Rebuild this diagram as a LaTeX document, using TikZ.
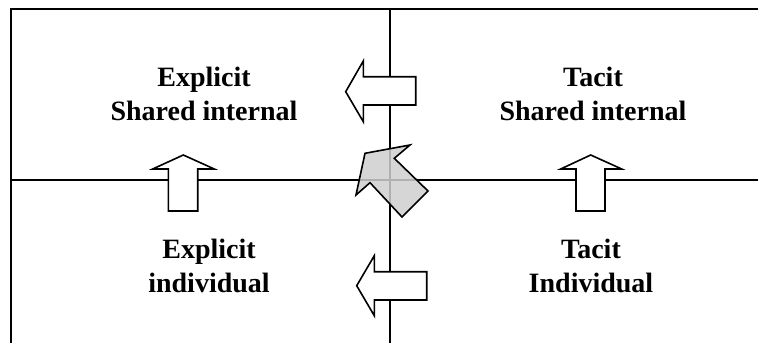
\documentclass[tikz,border=0pt]{standalone}
\usepackage{fontspec}
\setmainfont{Liberation Serif}
\begin{document}
\begin{tikzpicture}[x=1pt,y=-1pt,
    grid/.style={line width=2pt},
    quadlabel/.style={align=center,font=\bfseries\fontsize{28}{34}\selectfont,inner sep=0pt},
    blockarrow/.style={draw,line width=1.6pt,line join=miter,fill=white},
    turnarrow/.style={draw,line width=1.6pt,line join=miter,fill=black!19,fill opacity=0.85}]
  \useasboundingbox (0,0) rectangle (758,343);

  % quadrant frame
  \draw[grid] (11,343) -- (11,9) -- (758,9);
  \draw[grid] (390,9) -- (390,343);
  \draw[grid] (11,180) -- (758,180);

  % quadrant labels
  \node[quadlabel] (es) at (204,94)  {Explicit\\Shared internal};
  \node[quadlabel] (ts) at (593,94)  {Tacit\\Shared internal};
  \node[quadlabel] (ei) at (209,266) {Explicit\\individual};
  \node[quadlabel] (ti) at (591,266) {Tacit\\Individual};

  % tacit shared -> explicit shared
  \filldraw[blockarrow] (345.7,91.7) -- (363.3,61) -- (363.3,76.7) -- (415.7,76.7)
    -- (415.7,105) -- (363.3,105) -- (363.3,121.7) -- cycle;
  % tacit individual -> explicit individual
  \filldraw[blockarrow] (356.7,285.7) -- (374.3,255.7) -- (374.3,271.7) -- (426.7,271.7)
    -- (426.7,300) -- (374.3,300) -- (374.3,315.7) -- cycle;
  % explicit individual -> explicit shared
  \filldraw[blockarrow] (183.3,155) -- (214.3,169) -- (197.7,169) -- (197.7,211)
    -- (168.3,211) -- (168.3,169) -- (152.7,169) -- cycle;
  % tacit individual -> tacit shared
  \filldraw[blockarrow] (590.7,155) -- (621.7,169) -- (605,169) -- (605,211)
    -- (576,211) -- (576,169) -- (560.7,169) -- cycle;
  % tacit individual -> explicit shared (diagonal)
  \filldraw[turnarrow] (365,153.3) -- (410,145) -- (394.3,158.3) -- (428,191)
    -- (402,217) -- (370,182.7) -- (356,195) -- cycle;
\end{tikzpicture}
\end{document}
